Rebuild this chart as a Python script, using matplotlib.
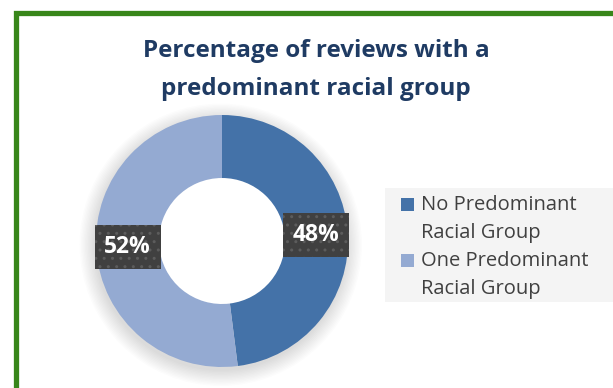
import matplotlib
matplotlib.use("Agg")
import matplotlib.pyplot as plt
from matplotlib.patches import Rectangle, Circle
import numpy as np

categories = ["No Predominant\nRacial Group", "One Predominant\nRacial Group"]
values = [48, 52]
colors = ["#4472A8", "#94AAD2"]
title = "Percentage of reviews with a\npredominant racial group"

W, H = 613, 388
fig = plt.figure(figsize=(W / 100, H / 100), dpi=100)
fig.patch.set_facecolor("white")

def fx(x): return x / W
def fy(y): return 1 - y / H

# green frame
fig.patches.append(Rectangle((fx(15.5), fy(420)), fx(700), fy(12.5) - fy(420),
                             transform=fig.transFigure, fill=False,
                             edgecolor="#38861A", linewidth=3.8, zorder=0))

# donut
cx, cy, r = 222, 241, 126
s = 1.15
ax = fig.add_axes([fx(cx - r * s), fy(cy + r * s), fx(2 * r * s), (2 * r * s) / H])
# soft shadow
for i in range(12):
    ax.add_patch(Circle((-0.01, -0.03), 1.0 + 0.011 * i, color="black",
                        alpha=0.011, lw=0, zorder=0))

wedges, texts, autos = ax.pie(values, colors=colors, startangle=90, counterclock=False,
                              radius=1.0, wedgeprops=dict(width=0.5, linewidth=0),
                              autopct="%d%%", pctdistance=0.75,
                              textprops=dict(color="white", fontsize=16.5, fontweight="bold",
                                             family="Open Sans"))
ax.set_xlim(-s, s)
ax.set_ylim(-s, s)
ax.set_aspect("equal")
ax.axis("off")
for i, (w, t) in enumerate(zip(wedges, autos)):
    w.set_zorder(2)
    t.set_text(f"{values[i]}%")
    t.set_zorder(5)
    t.set_bbox(dict(boxstyle="square,pad=0.42", facecolor="#404040", edgecolor="#5c5c5c",
                    hatch="..", linewidth=0))
ax.add_patch(Circle((0, 0), 0.5, color="white", zorder=1))

# title
fig.text(fx(316), fy(70), title, ha="center", va="center", fontsize=17.5,
         fontweight="bold", color="#1F3B63", family="Open Sans", linespacing=1.75)

# legend
fig.patches.append(Rectangle((fx(385), fy(302)), fx(240), fy(188) - fy(302),
                             transform=fig.transFigure, facecolor="#F4F4F4",
                             edgecolor="none", zorder=1))
ys = [204, 260]
for i, lab in enumerate(categories):
    fig.patches.append(Rectangle((fx(401), fy(ys[i] + 7)), fx(13), 13 / H,
                                 transform=fig.transFigure, facecolor=colors[i],
                                 edgecolor="none", zorder=2))
    fig.text(fx(421), fy(ys[i] - 9), lab, ha="left", va="top", fontsize=14.5,
             color="#404040", family="Open Sans", linespacing=1.55, zorder=3)

fig.savefig("out.png", dpi=100)
